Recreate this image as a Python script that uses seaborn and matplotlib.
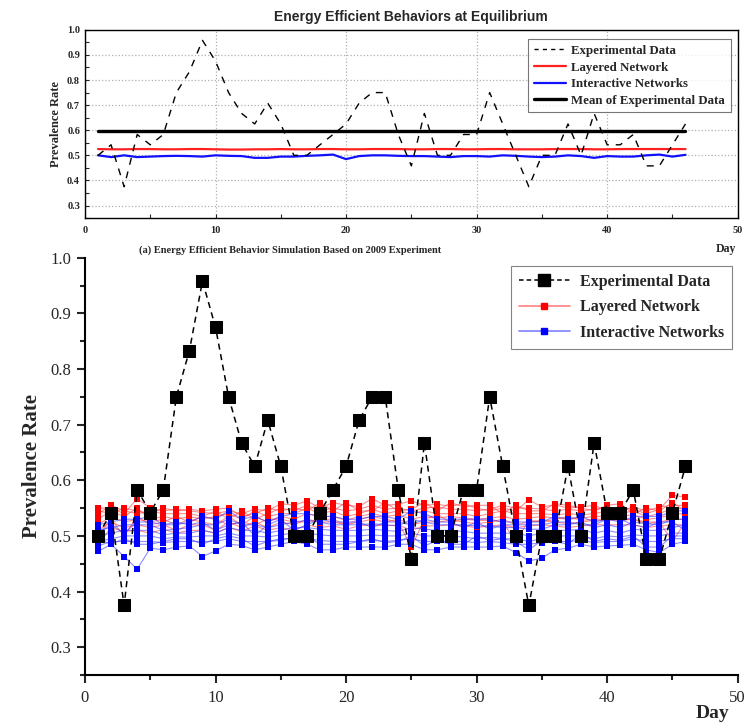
import numpy as np
import pandas as pd
import matplotlib
matplotlib.use("Agg")
import matplotlib.pyplot as plt
from matplotlib.lines import Line2D
from matplotlib.ticker import MultipleLocator
import seaborn as sns

days = list(range(1, 47))

experimental = [0.5, 0.542, 0.375, 0.583, 0.542, 0.583, 0.75, 0.833, 0.958, 0.875,
                0.75, 0.667, 0.625, 0.708, 0.625, 0.5, 0.5, 0.542, 0.583, 0.625,
                0.708, 0.75, 0.75, 0.583, 0.458, 0.667, 0.5, 0.5, 0.583, 0.583,
                0.75, 0.625, 0.5, 0.375, 0.5, 0.5, 0.625, 0.5, 0.667, 0.542,
                0.542, 0.583, 0.458, 0.458, 0.542, 0.625]

layered_avg = [0.525, 0.524, 0.524, 0.525, 0.525, 0.524, 0.524, 0.525, 0.525, 0.524,
               0.523, 0.523, 0.524, 0.524, 0.525, 0.524, 0.524, 0.525, 0.525, 0.524,
               0.524, 0.525, 0.525, 0.525, 0.524, 0.524, 0.525, 0.525, 0.524, 0.524,
               0.525, 0.525, 0.524, 0.524, 0.524, 0.525, 0.525, 0.525, 0.524, 0.524,
               0.525, 0.525, 0.525, 0.525, 0.525, 0.525]

interactive_avg = [0.5, 0.493, 0.5, 0.493, 0.495, 0.497, 0.498, 0.497, 0.495, 0.5,
                   0.498, 0.497, 0.49, 0.49, 0.495, 0.495, 0.498, 0.5, 0.503, 0.485,
                   0.497, 0.5, 0.5, 0.498, 0.497, 0.497, 0.495, 0.493, 0.497, 0.497,
                   0.495, 0.5, 0.498, 0.495, 0.493, 0.495, 0.5, 0.497, 0.49, 0.497,
                   0.495, 0.495, 0.5, 0.503, 0.495, 0.502]

layered_runs = [
    [0.55,0.55,0.54,0.567,0.55,0.545,0.548,0.545,0.542,0.54,0.545,0.54,0.548,0.545,0.558,0.555,0.563,0.55,0.56,0.555,0.553,0.567,0.555,0.557,0.563,0.555,0.557,0.553,0.558,0.55,0.545,0.55,0.545,0.565,0.552,0.556,0.55,0.552,0.555,0.545,0.55,0.548,0.54,0.548,0.573,0.57],
    [0.54,0.555,0.545,0.54,0.545,0.54,0.54,0.54,0.535,0.545,0.53,0.545,0.53,0.54,0.55,0.545,0.555,0.545,0.55,0.545,0.548,0.555,0.548,0.55,0.545,0.55,0.552,0.548,0.548,0.545,0.548,0.555,0.55,0.55,0.548,0.545,0.548,0.545,0.548,0.55,0.545,0.552,0.545,0.552,0.555,0.555],
    [0.53,0.545,0.535,0.55,0.53,0.535,0.53,0.535,0.53,0.535,0.54,0.53,0.545,0.535,0.54,0.54,0.55,0.54,0.545,0.535,0.54,0.548,0.54,0.545,0.54,0.545,0.54,0.54,0.54,0.535,0.54,0.545,0.54,0.54,0.54,0.538,0.54,0.538,0.54,0.545,0.54,0.545,0.535,0.54,0.55,0.548],
    [0.52,0.535,0.525,0.53,0.525,0.53,0.52,0.53,0.525,0.52,0.535,0.52,0.535,0.525,0.535,0.53,0.54,0.535,0.535,0.528,0.535,0.54,0.535,0.538,0.53,0.535,0.532,0.535,0.532,0.53,0.532,0.535,0.53,0.532,0.535,0.532,0.53,0.532,0.535,0.535,0.535,0.538,0.53,0.532,0.54,0.54],
    [0.51,0.525,0.515,0.52,0.515,0.52,0.51,0.52,0.52,0.51,0.525,0.515,0.525,0.515,0.525,0.52,0.53,0.525,0.525,0.52,0.525,0.53,0.525,0.53,0.52,0.525,0.525,0.528,0.525,0.522,0.525,0.53,0.52,0.525,0.528,0.525,0.522,0.525,0.528,0.528,0.53,0.53,0.522,0.525,0.53,0.53],
    [0.485,0.515,0.508,0.51,0.505,0.512,0.505,0.51,0.51,0.505,0.515,0.508,0.518,0.51,0.515,0.51,0.52,0.515,0.518,0.512,0.518,0.52,0.518,0.52,0.51,0.518,0.518,0.52,0.518,0.515,0.518,0.52,0.515,0.518,0.52,0.518,0.515,0.518,0.52,0.52,0.52,0.52,0.515,0.518,0.52,0.52],
    [0.545,0.54,0.55,0.545,0.54,0.55,0.545,0.548,0.545,0.548,0.55,0.535,0.54,0.55,0.545,0.55,0.545,0.56,0.545,0.56,0.545,0.545,0.56,0.545,0.548,0.56,0.545,0.56,0.552,0.555,0.555,0.54,0.555,0.545,0.545,0.558,0.555,0.55,0.545,0.555,0.558,0.54,0.55,0.545,0.56,0.545],
    [0.5,0.53,0.5,0.535,0.52,0.525,0.535,0.525,0.535,0.53,0.52,0.525,0.52,0.53,0.53,0.525,0.525,0.53,0.53,0.52,0.53,0.535,0.53,0.525,0.48,0.53,0.538,0.525,0.53,0.528,0.528,0.525,0.49,0.528,0.525,0.53,0.535,0.528,0.53,0.53,0.528,0.53,0.525,0.525,0.49,0.525],
]

interactive_runs = [
    [0.52,0.525,0.53,0.53,0.535,0.52,0.52,0.525,0.535,0.53,0.545,0.53,0.535,0.525,0.535,0.54,0.54,0.535,0.535,0.53,0.53,0.535,0.535,0.53,0.545,0.54,0.53,0.53,0.53,0.53,0.53,0.525,0.525,0.525,0.525,0.535,0.53,0.535,0.525,0.53,0.525,0.535,0.535,0.535,0.545,0.545],
    [0.51,0.515,0.52,0.52,0.52,0.51,0.512,0.515,0.52,0.52,0.53,0.52,0.52,0.515,0.52,0.525,0.528,0.525,0.52,0.52,0.52,0.522,0.52,0.518,0.53,0.525,0.52,0.52,0.52,0.518,0.518,0.515,0.515,0.512,0.512,0.52,0.52,0.525,0.515,0.52,0.515,0.525,0.522,0.52,0.53,0.53],
    [0.5,0.505,0.51,0.51,0.51,0.502,0.505,0.505,0.51,0.505,0.515,0.51,0.51,0.505,0.51,0.515,0.515,0.512,0.51,0.51,0.51,0.512,0.51,0.508,0.515,0.512,0.51,0.51,0.508,0.505,0.505,0.505,0.505,0.5,0.505,0.51,0.51,0.512,0.505,0.51,0.505,0.512,0.51,0.51,0.515,0.52],
    [0.49,0.495,0.5,0.5,0.5,0.495,0.498,0.498,0.5,0.5,0.505,0.5,0.5,0.498,0.502,0.505,0.505,0.502,0.5,0.5,0.5,0.502,0.5,0.5,0.505,0.5,0.5,0.5,0.498,0.495,0.498,0.495,0.495,0.49,0.495,0.5,0.5,0.5,0.495,0.5,0.498,0.502,0.5,0.5,0.505,0.505],
    [0.482,0.49,0.49,0.49,0.49,0.488,0.49,0.49,0.49,0.49,0.495,0.49,0.49,0.49,0.492,0.498,0.495,0.492,0.49,0.49,0.49,0.492,0.49,0.492,0.495,0.49,0.49,0.49,0.49,0.488,0.49,0.488,0.485,0.485,0.488,0.49,0.49,0.492,0.488,0.49,0.49,0.495,0.49,0.49,0.495,0.495],
    [0.472,0.485,0.463,0.44,0.478,0.475,0.48,0.482,0.463,0.473,0.485,0.483,0.475,0.48,0.485,0.49,0.485,0.475,0.475,0.48,0.48,0.48,0.48,0.485,0.485,0.475,0.475,0.48,0.48,0.48,0.48,0.482,0.47,0.455,0.46,0.475,0.478,0.485,0.48,0.482,0.483,0.485,0.475,0.47,0.485,0.49],
    [0.505,0.52,0.505,0.525,0.525,0.52,0.525,0.52,0.525,0.51,0.52,0.525,0.5,0.52,0.53,0.51,0.52,0.53,0.525,0.525,0.525,0.515,0.525,0.525,0.52,0.53,0.525,0.525,0.515,0.525,0.512,0.52,0.52,0.52,0.52,0.525,0.525,0.52,0.52,0.53,0.53,0.52,0.515,0.525,0.525,0.51],
    [0.495,0.485,0.495,0.485,0.485,0.49,0.495,0.495,0.485,0.495,0.5,0.495,0.482,0.49,0.495,0.495,0.5,0.485,0.485,0.485,0.49,0.495,0.488,0.49,0.5,0.482,0.492,0.485,0.485,0.5,0.492,0.495,0.49,0.475,0.492,0.49,0.485,0.505,0.49,0.495,0.492,0.5,0.48,0.48,0.5,0.5],
]

x_ticks = [0, 10, 20, 30, 40, 50]
y_ticks = [0.3, 0.4, 0.5, 0.6, 0.7, 0.8, 0.9, 1.0]

sns.set_theme(style="white")
plt.rcParams['font.family'] = ['Liberation Serif', 'DejaVu Serif']

fig = plt.figure(figsize=(7.52, 7.27), dpi=100)
ax1 = fig.add_axes([0.113, 0.700, 0.868, 0.259])
ax2 = fig.add_axes([0.113, 0.0715, 0.868, 0.574])

# ---------- top panel ----------
top_df = pd.DataFrame({"day": days, "exp": experimental,
                       "lay": layered_avg, "inter": interactive_avg})
top_df["mean"] = np.mean(experimental)

ax1.grid(True, which="major", color="#b0b0b0", linestyle=":", linewidth=0.9)
sns.lineplot(data=top_df, x="day", y="mean", ax=ax1, color="black", lw=2.4)
sns.lineplot(data=top_df, x="day", y="lay", ax=ax1, color="#ff2020", lw=1.6)
sns.lineplot(data=top_df, x="day", y="inter", ax=ax1, color="#1010ff", lw=1.6)
sns.lineplot(data=top_df, x="day", y="exp", ax=ax1, color="black", lw=1.0,
             linestyle=(0, (5, 5)))
ax1.set_xlim(0, 50)
ax1.set_ylim(0.25, 1.0)
ax1.set_xticks(x_ticks)
ax1.set_yticks(y_ticks)
ax1.xaxis.set_minor_locator(MultipleLocator(5))
ax1.yaxis.set_minor_locator(MultipleLocator(0.05))
ax1.tick_params(which="both", direction="in", length=3, width=0.8,
                labelsize=7.5, bottom=True, left=True)
ax1.tick_params(axis="x", pad=6)
ax1.set_xticklabels([str(v) for v in x_ticks], fontweight="bold")
ax1.set_yticklabels([f"{v:.1f}" for v in y_ticks], fontweight="bold")
ax1.set_xlabel("")
ax1.set_ylabel("Prevalence Rate", fontsize=9, fontweight="bold", labelpad=4)
for s in ax1.spines.values():
    s.set_color("black")
    s.set_linewidth(1.0)
ax1.set_title("Energy Efficient Behaviors at Equilibrium", fontsize=10,
              fontweight="bold", family=["Liberation Sans", "DejaVu Sans"], pad=6)

h1 = [Line2D([], [], color="black", lw=1.0, linestyle=(0, (3, 3))),
      Line2D([], [], color="#ff2020", lw=1.6),
      Line2D([], [], color="#1010ff", lw=1.6),
      Line2D([], [], color="black", lw=2.4)]
l1 = ["Experimental Data", "Layered Network", "Interactive Networks",
      "Mean of Experimental Data"]
leg1 = ax1.legend(h1, l1, loc="upper right", bbox_to_anchor=(0.999, 0.985),
                  prop={"weight": "bold", "size": 9.3}, frameon=True,
                  fancybox=False, edgecolor="#555555", handlelength=2.5,
                  handletextpad=0.4, labelspacing=0.35, borderpad=0.45)
leg1.get_frame().set_linewidth(0.8)

fig.text(0.386, 0.656, "(a) Energy Efficient Behavior Simulation Based on 2009 Experiment",
         ha="center", va="center", fontsize=7.5, fontweight="bold")
fig.text(0.965, 0.657, "Day", ha="center", va="center", fontsize=8.5,
         fontweight="bold")

# ---------- bottom panel ----------
rows = []
for i, run in enumerate(layered_runs):
    for d, v in zip(days, run):
        rows.append(("Layered", i, d, v))
for i, run in enumerate(interactive_runs):
    for d, v in zip(days, run):
        rows.append(("Interactive", i, d, v))
sim = pd.DataFrame(rows, columns=["model", "run", "day", "value"])
red_df = sim[sim["model"] == "Layered"]
blue_df = sim[sim["model"] == "Interactive"]

sns.lineplot(data=red_df, x="day", y="value", units="run", estimator=None,
             ax=ax2, color="#ff3030", lw=0.8, alpha=0.55)
sns.scatterplot(data=red_df, x="day", y="value", ax=ax2, color="#ff0000",
                marker="s", s=14, linewidth=0, zorder=3)
sns.lineplot(data=blue_df, x="day", y="value", units="run", estimator=None,
             ax=ax2, color="#3030ff", lw=0.8, alpha=0.55)
sns.scatterplot(data=blue_df, x="day", y="value", ax=ax2, color="#0000ff",
                marker="s", s=14, linewidth=0, zorder=4)
exp_df = pd.DataFrame({"day": days, "value": experimental})
sns.lineplot(data=exp_df, x="day", y="value", ax=ax2, color="black", lw=1.1,
             linestyle=(0, (4, 3)), marker="s", markersize=8.5,
             markeredgecolor="black", markerfacecolor="black", zorder=5)

ax2.set_xlim(0, 50)
ax2.set_ylim(0.25, 1.0)
ax2.set_xticks(x_ticks)
ax2.set_yticks(y_ticks)
ax2.xaxis.set_minor_locator(MultipleLocator(5))
ax2.yaxis.set_minor_locator(MultipleLocator(0.05))
ax2.tick_params(which="major", direction="out", length=6, width=1.5,
                labelsize=12, bottom=True, left=True, pad=4)
ax2.tick_params(which="minor", direction="out", length=3.5, width=1.5,
                bottom=True, left=True)
ax2.tick_params(axis="x", pad=5)
ax2.set_yticklabels([f"{v:.1f}" for v in y_ticks])
for s in ["top", "right"]:
    ax2.spines[s].set_visible(False)
for s in ["left", "bottom"]:
    ax2.spines[s].set_color("black")
    ax2.spines[s].set_linewidth(1.5)
ax2.set_xlabel("")
ax2.set_ylabel("Prevalence Rate", fontsize=15, fontweight="bold", labelpad=6)
fig.text(0.948, 0.018, "Day", ha="center", va="center", fontsize=14,
         fontweight="bold")

h2 = [Line2D([], [], color="black", lw=1.1, linestyle=(0, (3, 2)), marker="s",
             markersize=9, markerfacecolor="black"),
      Line2D([], [], color="#ff8080", lw=1.2, marker="s", markersize=4,
             markerfacecolor="#ff0000", markeredgecolor="#ff0000"),
      Line2D([], [], color="#8080ff", lw=1.2, marker="s", markersize=4,
             markerfacecolor="#0000ff", markeredgecolor="#0000ff")]
l2 = ["Experimental Data", "Layered Network", "Interactive Networks"]
leg2 = ax2.legend(h2, l2, loc="upper right", bbox_to_anchor=(1.003, 1.0),
                  prop={"weight": "bold", "size": 11.5}, frameon=True,
                  fancybox=False, edgecolor="#666666", handlelength=3.2,
                  handletextpad=0.6, labelspacing=0.6, borderpad=0.5)
leg2.get_frame().set_linewidth(0.8)

fig.savefig("out.png", dpi=100)
